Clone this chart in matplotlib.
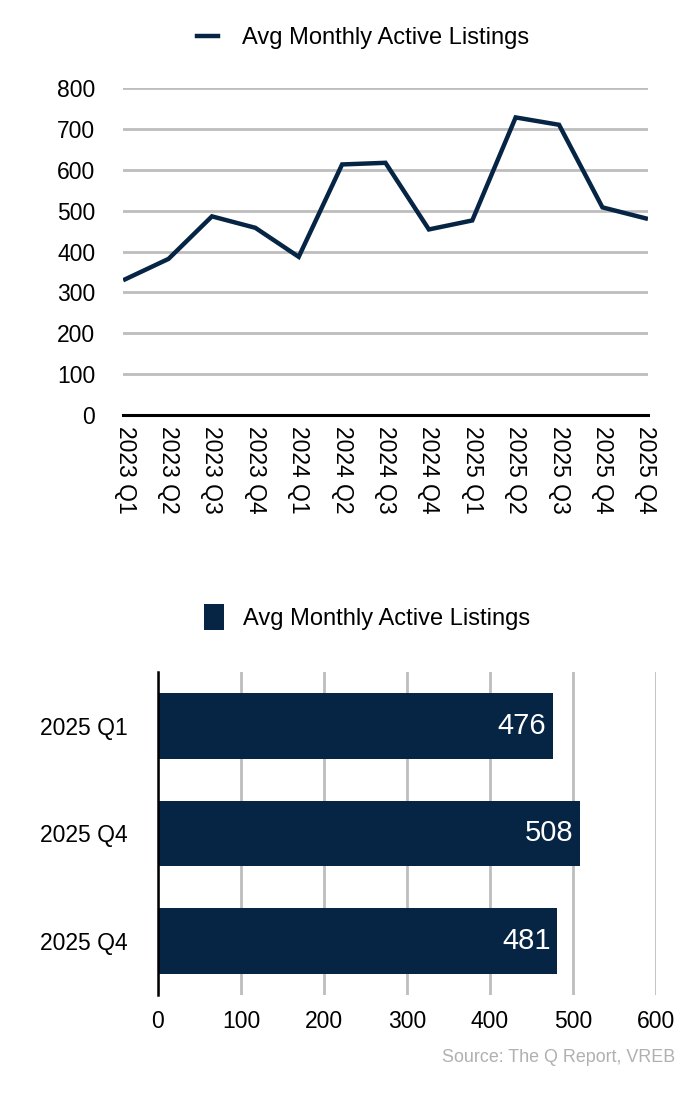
"""Avg monthly active listings: quarterly line and recent-quarter bars."""

import matplotlib.pyplot as plt
from matplotlib.lines import Line2D
from matplotlib.patches import Patch

plt.rcParams["font.family"] = ["Liberation Sans", "DejaVu Sans"]

NAVY = "#062544"
GRID = "#bdbdbd"

QUARTERS = [
    "2023 Q1", "2023 Q2", "2023 Q3", "2023 Q4",
    "2024 Q1", "2024 Q2", "2024 Q3", "2024 Q4",
    "2025 Q1", "2025 Q2", "2025 Q3", "2025 Q4", "2025 Q4",
]
LISTINGS = [332, 382, 486, 458, 387, 613, 617, 454, 476, 728, 710, 508, 481]

BAR_LABELS = ["2025 Q1", "2025 Q4", "2025 Q4"]
BAR_VALUES = [476, 508, 481]

SERIES_NAME = "Avg Monthly Active Listings"
SOURCE = "Source: The Q Report, VREB"

TICK_SIZE = 16.5
LEGEND_SIZE = 17


def draw_line_chart(fig):
    ax = fig.add_axes([0.1757, 0.6227, 0.75, 0.2973])
    positions = list(range(len(QUARTERS)))
    ax.plot(positions, LISTINGS, color=NAVY, linewidth=3.2, solid_joinstyle="miter")
    ax.set_xlim(-0.05, len(QUARTERS) - 0.95)
    ax.set_ylim(0, 800)
    ax.set_yticks(range(0, 801, 100))
    ax.yaxis.grid(True, color=GRID, linewidth=2)
    ax.set_axisbelow(True)
    ax.set_xticks(positions)
    ax.set_xticklabels(QUARTERS, rotation=270)
    ax.tick_params(axis="both", length=0, labelsize=TICK_SIZE)
    ax.tick_params(axis="y", pad=20)
    ax.tick_params(axis="x", pad=8)
    for side in ("top", "right", "left"):
        ax.spines[side].set_visible(False)
    ax.spines["bottom"].set_linewidth(2.2)
    ax.spines["bottom"].set_color("black")
    fig.legend(
        handles=[Line2D([0], [0], color=NAVY, linewidth=3.2)],
        labels=[SERIES_NAME],
        loc="center",
        bbox_to_anchor=(363 / 700, 1 - 38 / 1100),
        frameon=False,
        fontsize=LEGEND_SIZE,
        handlelength=0.9,
        handletextpad=1.0,
    )


def draw_bar_chart(fig):
    ax = fig.add_axes([0.2257, 0.0955, 0.7114, 0.2936])
    positions = list(range(len(BAR_LABELS)))
    ax.barh(positions, BAR_VALUES, height=0.61, color=NAVY)
    for pos, value in zip(positions, BAR_VALUES):
        ax.text(value - 8, pos, str(value), color="white", fontsize=21,
                ha="right", va="center")
    ax.set_xlim(0, 600)
    ax.set_ylim(2.5, -0.5)
    ax.set_xticks(range(0, 601, 100))
    ax.set_yticks(positions)
    ax.set_yticklabels(BAR_LABELS)
    ax.xaxis.grid(True, color=GRID, linewidth=2)
    ax.set_axisbelow(True)
    ax.tick_params(axis="both", length=0, labelsize=TICK_SIZE)
    ax.tick_params(axis="x", pad=11)
    ax.tick_params(axis="y", pad=22)
    for side in ("top", "right", "bottom"):
        ax.spines[side].set_visible(False)
    ax.spines["left"].set_linewidth(1.8)
    ax.spines["left"].set_color("black")
    fig.legend(
        handles=[Patch(facecolor=NAVY)],
        labels=[SERIES_NAME],
        loc="center",
        bbox_to_anchor=(367 / 700, 1 - 617 / 1100),
        frameon=False,
        fontsize=LEGEND_SIZE,
        handlelength=0.85,
        handleheight=1.3,
        handletextpad=0.8,
    )


def main():
    fig = plt.figure(figsize=(7, 11), dpi=100)
    draw_line_chart(fig)
    draw_bar_chart(fig)
    fig.text(675 / 700, 1 - 1058 / 1100, SOURCE, ha="right", va="center",
             color="#b0b0b0", fontsize=12.9)
    fig.savefig("out.png", dpi=100)
    plt.close(fig)


if __name__ == "__main__":
    main()
